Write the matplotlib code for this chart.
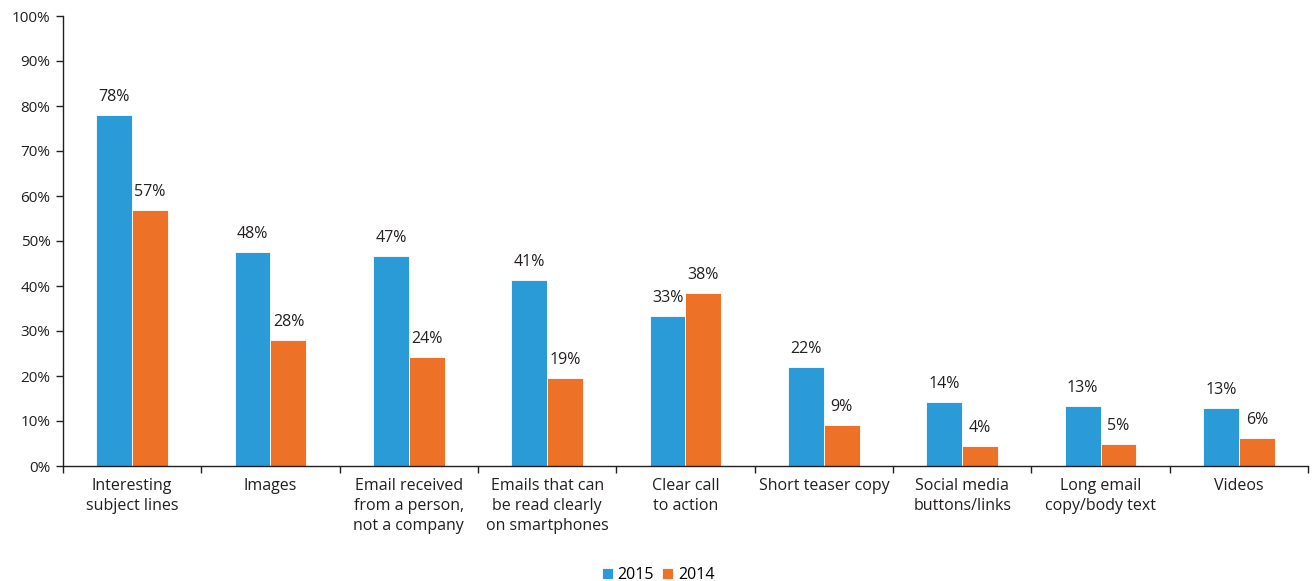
import matplotlib.pyplot as plt
import numpy as np

plt.rcParams['font.family'] = ['Open Sans', 'DejaVu Sans']

categories = ["Interesting\nsubject lines", "Images", "Email received\nfrom a person,\nnot a company",
              "Emails that can\nbe read clearly\non smartphones", "Clear call\nto action", "Short teaser copy",
              "Social media\nbuttons/links", "Long email\ncopy/body text", "Videos"]
vals_2015 = [78, 47.6, 46.7, 41.3, 33.3, 22, 14.2, 13.3, 12.9]
vals_2014 = [56.9, 28, 24.2, 19.6, 38.4, 9.1, 4.4, 4.9, 6.2]
labels_2015 = [78, 48, 47, 41, 33, 22, 14, 13, 13]
labels_2014 = [57, 28, 24, 19, 38, 9, 4, 5, 6]

blue = "#2a9bd7"
orange = "#ed7127"
txt = "#231f20"

fig = plt.figure(figsize=(13.16, 5.81), dpi=100)
ax = fig.add_axes([63 / 1316, 1 - 466 / 581, (1308 - 63) / 1316, 450 / 581])

x = np.arange(len(categories))
w = 0.26
b1 = ax.bar(x - w / 2, vals_2015, w, color=blue, label="2015", edgecolor="white", linewidth=0.6)
b2 = ax.bar(x + w / 2, vals_2014, w, color=orange, label="2014", edgecolor="white", linewidth=0.6)

# data labels above bars
for rects, labs in ((b1, labels_2015), (b2, labels_2014)):
    for r, lab in zip(rects, labs):
        ax.annotate(f"{lab}%", (r.get_x() + r.get_width() / 2, r.get_height()),
                    xytext=(0, 7), textcoords="offset points", ha="center", va="bottom",
                    fontsize=11.5, color=txt)

ax.set_xlim(-0.5, len(categories) - 0.5)
ax.set_ylim(0, 100)
ax.set_yticks(range(0, 101, 10))
ax.set_yticklabels([f"{v}%" for v in range(0, 101, 10)], fontsize=11, color=txt)

ax.set_xticks(x)
ax.set_xticklabels(categories, fontsize=11.5, color=txt, linespacing=1.32)
ax.tick_params(axis="x", length=0, pad=9)
ax.set_xticks(np.arange(-0.5, len(categories)), minor=True)
ax.tick_params(axis="x", which="minor", length=5, width=1, color=txt)
ax.tick_params(axis="y", length=5, width=1, color=txt, pad=4)

for s in ("top", "right"):
    ax.spines[s].set_visible(False)
for s in ("left", "bottom"):
    ax.spines[s].set_color(txt)
    ax.spines[s].set_linewidth(1)

fig.legend(handles=[b1, b2], loc="lower center", bbox_to_anchor=(0.5, -0.028), ncol=2, frameon=False,
           fontsize=11.5, handlelength=0.7, handleheight=0.7, handletextpad=0.3, columnspacing=0.5)

plt.savefig("out.png", dpi=100)
